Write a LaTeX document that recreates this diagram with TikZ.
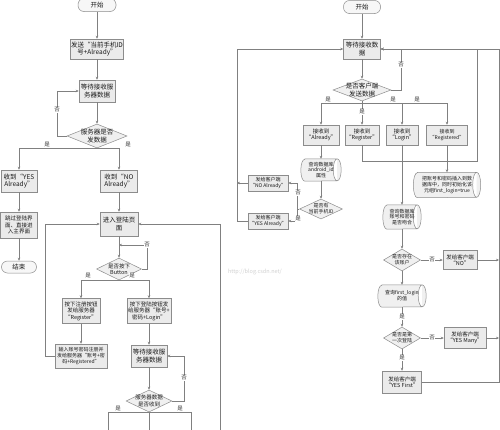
\documentclass[tikz,border=0pt]{standalone}
\usepackage{fontspec}
\setmainfont{Noto Sans CJK SC}
\usetikzlibrary{shapes.geometric,arrows.meta,shadows,calc,backgrounds}
\newcommand{\fA}{\fontsize{6.5}{7.6}\selectfont}
\newcommand{\fB}{\fontsize{5.5}{6.5}\selectfont}
\newcommand{\fC}{\fontsize{5}{5.9}\selectfont}
\newcommand{\cylpath}[2]{%
  \draw[cylst] let \p1=(#1.north west), \p2=(#1.south east) in
    (\x1+4pt,\y1) -- (\x2-4pt,\y1) arc[start angle=90, end angle=-90, x radius=4pt, y radius=#2pt]
    -- (\x1+4pt,\y2) arc[start angle=270, end angle=90, x radius=4pt, y radius=#2pt] -- cycle
    (\x2-4pt,\y1) arc[start angle=90, end angle=270, x radius=4pt, y radius=#2pt];}
\begin{document}
\begin{tikzpicture}[x=1pt,y=-1pt,
  line/.style={draw=black!50, line width=0.5pt},
  arr/.style={line, -{Stealth[length=3pt,width=2.6pt]}},
  box/.style={draw=black!45, fill=black!8, line width=0.5pt, align=center, inner sep=0pt, font=\fA, text=black!90,
    drop shadow={shadow xshift=0.8pt,shadow yshift=-0.8pt,fill=black!30}},
  term/.style={draw=black!45, fill=black!3, line width=0.5pt, rounded corners=6pt, inner sep=0pt, font=\fA, text=black!90},
  dia/.style={diamond, draw=black!45, fill=black!6, line width=0.5pt, inner sep=0pt},
  cyl/.style={rectangle, align=center, inner sep=0pt, font=\fC, text=black!90},
  cylst/.style={draw=black!45, fill=black!6, line width=0.5pt},
  intext/.style={align=center, inner sep=0pt, font=\fA, text=black!90},
  lbl/.style={font=\fB, fill=white, inner sep=0.4pt, text=black!80}]
\begin{scope}[on background layer]
\fill[white] (0,0) rectangle (500,429);
\end{scope}
\useasboundingbox (0,0) rectangle (500,429);

% ---------------- left chart ----------------
\node[term, minimum width=38, minimum height=13] (s1) at (97,5) {开始};
\node[box, minimum width=53, minimum height=20] (b1) at (97,49) {发送“当前手机ID\\号+Already”};
\node[box, minimum width=36, minimum height=22] (b2) at (97,91) {等待接收服\\务器数据};
\node[dia, minimum width=60, minimum height=24, label={[intext]center:{服务器是否\\发数据}}] (d1) at (97,136) {};
\node[box, minimum width=36, minimum height=22] (b3) at (19,181) {收到“YES\\Already”};
\node[box, minimum width=37, minimum height=22] (b4) at (119,181) {收到“NO\\Already”};
\node[box, minimum width=37, minimum height=26, font=\fB] (b5) at (19,225) {跳过登陆界\\面、直接进\\入主界面};
\node[term, minimum width=35, minimum height=12] (e1) at (19,267) {结束};
\node[box, minimum width=38, minimum height=24] (b6) at (119,224) {进入登陆页\\面};
\node[dia, minimum width=45, minimum height=22, label={[intext, font=\fB]center:{是否按下\\Button}}] (d2) at (119,269) {};
\node[box, minimum width=38, minimum height=25, font=\fB] (b7) at (81,311) {按下注册按钮\\发给服务器\\“Register”};
\node[box, minimum width=44, minimum height=25, font=\fB] (b8) at (149,311) {按下登陆按钮发\\给服务器“账号+\\密码+Login”};
\node[box, minimum width=52, minimum height=24, font=\fC] (b9) at (81,356) {输入账号密码注册并\\发给服务器“账号+密\\码+Registered”};
\node[box, minimum width=36, minimum height=22] (b10) at (149,356) {等待接收服\\务器数据};
\node[dia, minimum width=46, minimum height=22, label={[intext, font=\fB]center:{服务器数据\\是否收到}}] (d3) at (149,401) {};

\draw[arr] (s1) -- (b1);
\draw[arr] (b1) -- (b2);
\draw[arr] (b2) -- (d1);
\draw[arr] (d1.west) -- ++(-10,0) |- (b2.west);
\draw[arr] (d1.south) -| (b3.north);
\draw[arr] (d1.south) -| (b4.north);
\draw[arr] (b3) -- (b5);
\draw[arr] (b5) -- (e1);
\draw[arr] (b4) -- (b6);
\draw[arr] (b6) -- (d2);
\coordinate (m1) at (119,245);
\draw[arr] (d2.east) -- ++(5,0) |- (m1);
\draw[arr] (d2.south) -| (b7.north);
\draw[arr] (d2.south) -| (b8.north);
\draw[arr] (b7) -- (b9);
\draw[arr] (b9.west) -- ++(-10,0) |- (b6.west);
\draw[arr] (b8) -- (b10);
\draw[arr] (b10) -- (d3);
\draw[arr] (d3.east) -- ++(12,0) |- (b10.east);
\coordinate (o1) at (108,430);
\coordinate (o2) at (149,430);
\coordinate (o3) at (191,430);
\coordinate (o4) at (220,430);
\draw[line] (d3.south) -| (o1);
\draw[line] (d3.south) -- (o2);
\draw[line] (d3.south) -| (o3);
\draw[arr] (o4) |- (b6.east);

\node[lbl] (l1) at (57,110) {否};
\node[lbl] (l2) at (47,145) {是};
\node[lbl] (l3) at (128,145) {是};
\node[lbl] (l4) at (147,245) {否};
\node[lbl] (l5) at (88,276) {是};
\node[lbl] (l6) at (132,276) {是};
\node[lbl] (l7) at (184,378) {否};
\node[lbl] (l8) at (118,409) {是};
\node[lbl] (l9) at (180,409) {是};

\node[font=\fB, text=black!18] (wm) at (255,272) {http://blog.csdn.net/};

% ---------------- right chart ----------------
\node[term, minimum width=37, minimum height=13] (s2) at (362,7) {开始};
\node[box, minimum width=37, minimum height=20] (r1) at (362,49) {等待接收数\\据};
\node[dia, minimum width=58, minimum height=22, label={[intext]center:{是否客户端\\发送数据}}] (d4) at (362,90) {};
\node[box, minimum width=36, minimum height=20, font=\fB] (r2) at (321,135) {接收到\\“Already”};
\node[box, minimum width=34, minimum height=20, font=\fB] (r3) at (362,135) {接收到\\“Register”};
\node[box, minimum width=32, minimum height=20, font=\fB] (r4) at (402,135) {接收到\\“Login”};
\node[box, minimum width=41, minimum height=20, font=\fC] (r5) at (447,135) {接收到\\“Registered”};
\node[cyl, minimum width=40, minimum height=22] (c1) at (321,170) {查询数据库\\android\_id\\属性};
\node[dia, minimum width=43, minimum height=20, label={[intext, font=\fC]center:{是否有\\当前手机ID}}] (d5) at (321,209) {};
\node[box, minimum width=40, minimum height=16, font=\fC] (r6) at (268,183) {发给客户端\\“NO Already”};
\node[box, minimum width=40, minimum height=16, font=\fC] (r7) at (268,221) {发给客户端\\“YES Already”};
\node[cyl, minimum width=67, minimum height=25] (c2) at (447,185) {把账号和密码插入到数\\据库中，同时初始化该\\元组first\_login=true};
\node[cyl, minimum width=38, minimum height=24] (c3) at (402,217) {查询数据库\\账号和密码\\是否吻合};
\node[dia, minimum width=37, minimum height=22, label={[intext, font=\fC]center:{是否存在\\该账户}}] (d6) at (402,260) {};
\node[box, minimum width=34, minimum height=19, font=\fB] (r8) at (460,260) {发给客户端\\“NO”};
\node[cyl, minimum width=48, minimum height=22] (c4) at (402,296) {查询first\_login\\的值};
\node[dia, minimum width=37, minimum height=22, label={[intext, font=\fC]center:{是否是第\\一次登陆}}] (d7) at (402,338) {};
\node[box, minimum width=42, minimum height=21, font=\fB] (r9) at (465,338) {发给客户端\\“YES Many”};
\node[box, minimum width=39, minimum height=22, font=\fB] (r10) at (402,382) {发给客户端\\“YES First”};

\begin{scope}[on background layer]
\cylpath{c1}{11}
\cylpath{c2}{12.5}
\cylpath{c3}{12}
\cylpath{c4}{11}
\end{scope}

\draw[arr] (s2) -- (r1);
\draw[arr] (r1) -- (d4);
\draw[arr] (d4.east) -- ++(10,0) |- (r1.east);
\coordinate (j1) at (362,103);
\draw[line] (d4.south) -- (j1);
\draw[arr] (j1) -| (r2.north);
\draw[arr] (j1) -- (r3.north);
\draw[arr] (j1) -| (r4.north);
\draw[arr] (j1) -| (r5.north);
\draw[arr] (r2) -- (c1);
\draw[arr] (c1) -- (d5);
\draw[arr] (d5.west) -- ++(-2,0) |- (r6.east);
\draw[arr] (d5.west) -- ++(-2,0) |- (r7.east);
\coordinate (v1) at (237,183);
\coordinate (v2) at (237,221);
\draw[arr] (r6.west) -- (v1);
\draw[arr] (r7.west) -- (v2) |- (r1.west);
\coordinate (h1) at (477,161);
\draw[arr] (r3.south) |- (h1) |- (r1.east);
\draw[arr] (r4) -- (c3);
\draw[arr] (r5) -- (c2);
\draw[arr] (c3) -- (d6);
\draw[arr] (d6) -- (r8);
\coordinate (w1) at (499,260);
\coordinate (w2) at (499,338);
\coordinate (w3) at (499,382);
\draw[arr] (r8) -- (w1);
\draw[arr] (d6) -- (c4);
\draw[arr] (c4) -- (d7);
\draw[arr] (d7) -- (r9);
\draw[arr] (r9) -- (w2);
\draw[arr] (d7) -- (r10);
\draw[arr] (r10.east) -- (w3) |- (r1.east);

\node[lbl] (l10) at (401,65) {否};
\node[lbl] (l11) at (328,100) {是};
\node[lbl] (l12) at (362,112) {是};
\node[lbl] (l13) at (393,100) {是};
\node[lbl] (l14) at (417,100) {是};
\node[lbl] (l15) at (298,193) {否};
\node[lbl] (l16) at (298,219) {是};
\node[lbl] (l17) at (432,260) {否};
\node[lbl] (l18) at (402,317) {是};
\node[lbl] (l19) at (432,338) {否};
\node[lbl] (l20) at (402,358) {是};
\end{tikzpicture}
\end{document}
